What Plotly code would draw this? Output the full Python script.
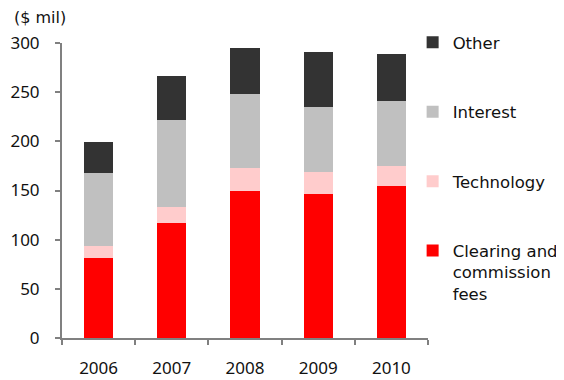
import plotly.graph_objects as go

years = ["2006", "2007", "2008", "2009", "2010"]
clearing = [81.5, 117, 149.5, 146.4, 154.5]
technology = [12.2, 16.2, 23.3, 22.4, 20.3]
interest = [74, 88.3, 75.1, 65.9, 66]
other = [31.5, 44.7, 46.7, 55.8, 47.7]

series = [
    ("Clearing and<br>commission<br>fees", clearing, "#FF0000", 4),
    ("Technology", technology, "#FFCCCC", 3),
    ("Interest", interest, "#C0C0C0", 2),
    ("Other", other, "#333333", 1),
]

fig = go.Figure()
for i, (name, vals, col, rank) in enumerate(series):
    fig.add_trace(go.Bar(x=years, y=vals, name=name, marker=dict(color=col, line=dict(width=0)),
                         legendgroup="g%d" % i, legendrank=rank))

fig.update_layout(
    barmode="stack",
    bargap=0.6,
    width=556, height=372,
    margin=dict(l=54, r=136, t=35, b=42, autoexpand=False),
    paper_bgcolor="white", plot_bgcolor="white",
    font=dict(family="Noto Sans, DejaVu Sans, sans-serif", size=17, color="#111111"),
    showlegend=True,
    legend=dict(traceorder="grouped", tracegroupgap=45, x=0.958, xanchor="left",
                y=1.061, yanchor="top", valign="top", maxheight=360,
                font=dict(family="DejaVu Sans, sans-serif", size=16.5, color="#111111"),
                bgcolor="rgba(0,0,0,0)"),
    annotations=[dict(text="($ mil)", xref="paper", yref="paper", x=-0.137, y=1.088,
                      xanchor="left", yanchor="middle", showarrow=False,
                      font=dict(family="DejaVu Sans, sans-serif", size=16, color="#111111"))],
)
fig.update_yaxes(range=[0, 300], tickvals=[0, 50, 100, 150, 200, 250, 300],
                 showgrid=False, zeroline=False, showline=True, linecolor="#808080", linewidth=2,
                 ticks="outside", ticklen=5, tickcolor="#808080", tickwidth=2,
                 ticklabelstandoff=12)
fig.update_xaxes(showgrid=False, showline=True, linecolor="#808080", linewidth=2,
                 ticks="outside", ticklen=5, tickcolor="#808080", tickwidth=2,
                 tickson="boundaries", ticklabelstandoff=14)

fig.write_html("out.html")
